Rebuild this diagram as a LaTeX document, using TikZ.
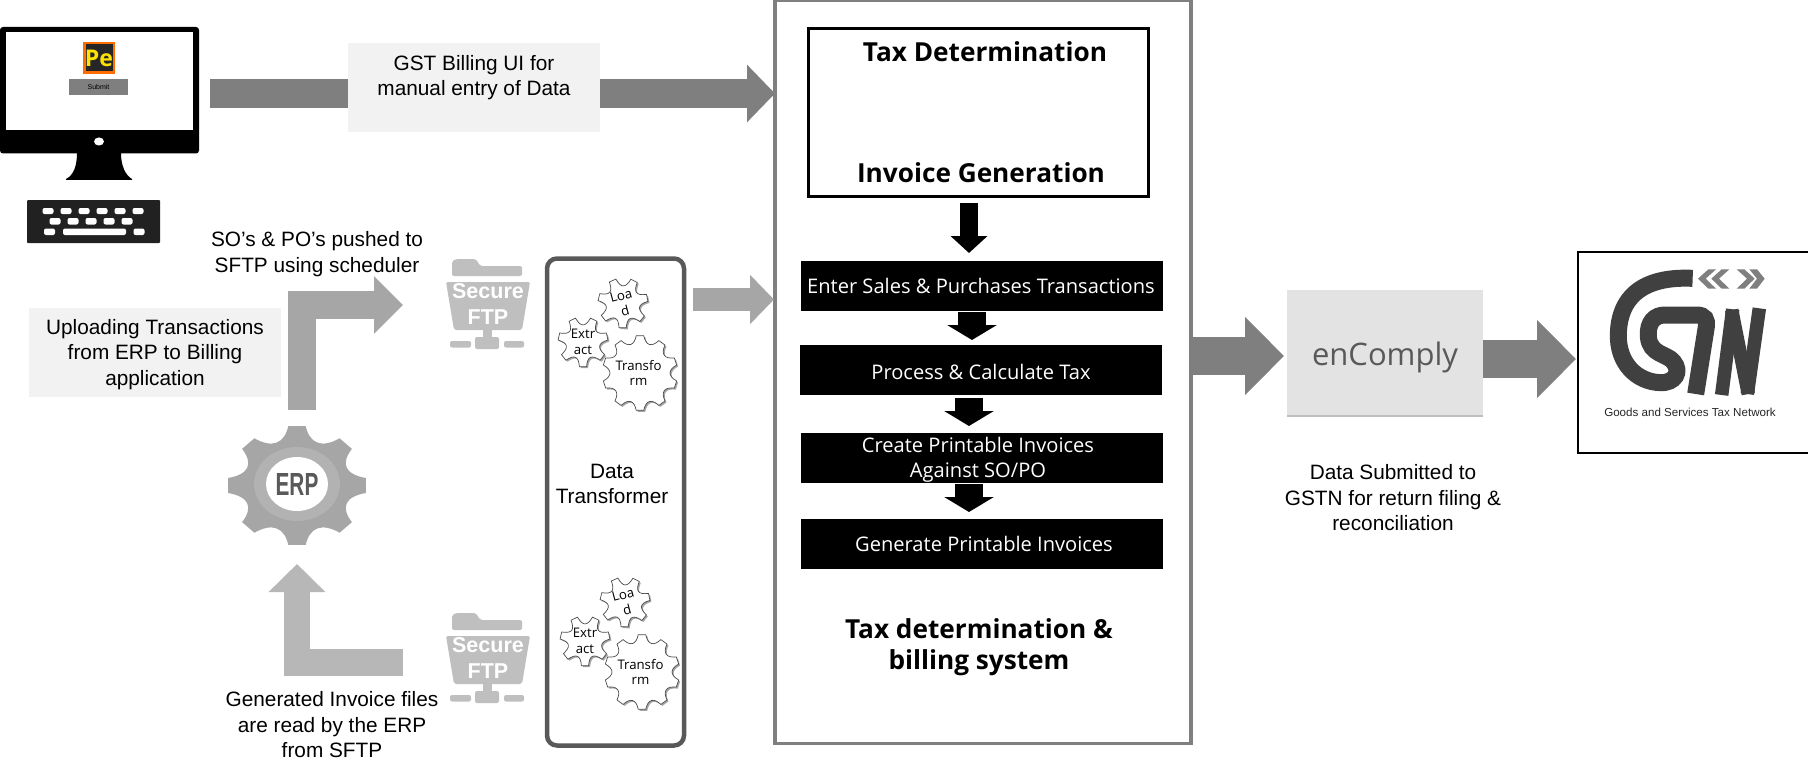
\documentclass[tikz,border=0pt]{standalone}
\usepackage{fontspec}
\usepackage{graphicx}
\usetikzlibrary{arrows.meta,shadows,calc}
\newfontfamily\arl{Liberation Sans}
\newfontfamily\opn{Open Sans}
\newcommand\fsz[2]{\fontsize{#1}{#2}\selectfont}
\definecolor{gdark}{HTML}{7F7F7F}
\definecolor{gmid}{HTML}{A6A6A6}
\definecolor{glight}{HTML}{B7B7B7}
\definecolor{gsftp}{HTML}{BFBFBF}
\definecolor{gpale}{HTML}{F2F2F2}
\definecolor{gbox}{HTML}{E3E3E3}
\definecolor{gtext}{HTML}{595959}
\definecolor{logoc}{HTML}{404040}
\tikzset{
  blockarrow/.style n args={4}{line width=#1,-{Triangle[length=#2,width=#3]},draw=#4,line cap=butt,miter limit=10},
  arialtext/.style={font=\arl\fsz{20.8}{25.5},align=center,inner sep=0pt,text=black},
  palebox/.style={fill=gpale,inner sep=0pt,outer sep=0pt},
  stepbar/.style={fill=black,text=white,inner sep=0pt,outer sep=0pt,minimum width=362pt,minimum height=50pt},
  steptext/.style={text=white,font=\opn\fsz{20.1}{25},align=center,inner sep=0pt},
  headtext/.style={font=\opn\bfseries\fsz{26.2}{31},align=center,inner sep=0pt},
  geartext/.style={font=\opn\fsz{13.2}{15.5},align=center,inner sep=0pt},
  gearface/.style={fill=white,draw=black!70,line width=.7pt,drop shadow={shadow xshift=1.5pt,shadow yshift=-1.5pt,opacity=.35,fill=black}},
}
\newcommand\geardraw[7]{%
  \pgfmathsetmacro\gst{360/#3}\pgfmathsetmacro\gw{\gst*.16}%
  \begin{scope}[shift={(#1,#2)},rotate=#6]
    \path[#7] (-\gw:#4) foreach \gi in {1,...,#3} {
      -- ({(\gi-1)*\gst+\gw}:#4)
      .. controls ({(\gi-1)*\gst+.33*\gst}:#5) and ({(\gi-1)*\gst+.67*\gst}:#5) .. ({\gi*\gst-\gw}:#4)
    } -- cycle;
  \end{scope}}
\newcommand\sftpicon[3]{% name, dx, dy
  \begin{scope}[shift={(#2,#3)}]
    \fill[gsftp,rounded corners=2pt] (452,276) -- (452,261) -- (456,259) -- (476,259) -- (480,266) -- (522,266) -- (522,276) -- cycle;
    \fill[gsftp,rounded corners=2pt] (446,282) -- (530,282) -- (522,330) -- (454,330) -- cycle;
    \fill[gsftp] (483,330) rectangle (492,340);
    \fill[gsftp,rounded corners=2pt] (475,337) rectangle (499,349);
    \fill[gsftp,rounded corners=2pt] (450,341) rectangle (471,347.5);
    \fill[gsftp,rounded corners=2pt] (504,341) rectangle (524,347.5);
    \node[font=\arl\bfseries\fsz{21.5}{26},text=white,align=center,inner sep=0pt] (#1) at (488,304) {Secure\\FTP};
  \end{scope}}
\newcommand\etlgears[5]{% dx, dy, and node names
  \begin{scope}[shift={(#1,#2)}]
    \geardraw{623}{303}{7}{25}{15}{12}{gearface}
    \geardraw{583}{342}{7}{25}{15}{-90}{gearface}
    \geardraw{640}{373}{10}{37.5}{28}{-90}{gearface}
    \node[geartext,rotate=15] (#3) at (623,303) {Loa\\d};
    \node[geartext] (#4) at (583,342) {Extr\\act};
    \node[geartext] (#5) at (638.5,373) {Transfo\\rm};
  \end{scope}}
\begin{document}
\begin{tikzpicture}[x=1pt,y=-1pt]
\useasboundingbox (0,0) rectangle (1808,773);
\fill[white] (0,0) rectangle (1808,773);

% monitor
\fill[black,rounded corners=3pt] (0,27) rectangle (199,153.5);
\fill[white] (6,32) rectangle (193,130);
\fill[white] (99,141.5) ellipse (5 and 4);
\fill[black] (77,153) .. controls (77,165) and (74,175) .. (66,179) -- (66,180) -- (132,180) -- (132,179) .. controls (125,175) and (121,165) .. (121,153) -- cycle;
% keyboard
\fill[black!87,rounded corners=1pt] (27,200) rectangle (160,243);
\foreach \kx in {48,66,84,102,120,138} \fill[white,rounded corners=2pt] (\kx-5.5,208) rectangle (\kx+5.5,214);
\foreach \kx in {55,73,91,109,127} \fill[white,rounded corners=2pt] (\kx-5.5,218) rectangle (\kx+5.5,224.5);
\fill[white,rounded corners=2pt] (44,228.5) rectangle (55,235);
\fill[white,rounded corners=2pt] (63,228.5) rectangle (126,235);
\fill[white,rounded corners=2pt] (133.5,228.5) rectangle (144.5,235);
% Pe icon and button
\node[draw=orange!85!red,line width=2.5pt,fill=black!85,minimum width=29.5pt,minimum height=29.5pt,inner sep=0pt,text=yellow!85!orange,font=\opn\bfseries\fsz{23}{25}] (pe) at (99,58) {Pe};
\node[fill=gdark,minimum width=59pt,minimum height=16pt,inner sep=0pt,font=\arl\fsz{7}{8}] (submit) at (98.5,87) {Submit};

% main frame
\node[draw=gdark,line width=3.5pt,inner sep=0pt,outer sep=0pt,minimum width=416pt,minimum height=743pt] (frame) at (983,372) {};

% top arrow and label
\coordinate (a1s) at (210,93.5);
\draw[blockarrow={29pt}{28pt}{56pt}{gdark}] (a1s) -- (a1s -| frame.west);
\node[palebox,minimum width=252pt,minimum height=89pt] (gstui) at (474,87.5) {};
\node[arialtext] (gstt) at (474,77.5) {GST Billing UI for\\manual entry of Data};

% tax determination
\node[draw=black,line width=2.5pt,fill=white,inner sep=0pt,outer sep=0pt,minimum width=340pt,minimum height=168pt] (detbox) at (978.5,112.5) {};
\node[headtext] (taxdet) at (985,52) {Tax Determination};
\node[headtext] (invgen) at (981,172.5) {Invoice Generation};

% steps
\node[stepbar] (s1) at (982,286) {};
\node[stepbar] (s2) at (981,370) {};
\node[stepbar] (s3) at (982,458) {};
\node[stepbar] (s4) at (982,544) {};
\node[steptext] (s1t) at (981,286) {Enter Sales \& Purchases Transactions};
\node[steptext] (s2t) at (981,372) {Process \& Calculate Tax};
\node[steptext] (s3t) at (978,459.5) {Create Printable Invoices\\Against SO/PO};
\node[steptext] (s4t) at (984,544) {Generate Printable Invoices};

\coordinate (k1) at (969,203);
\coordinate (k2) at (972,312);
\coordinate (k3) at (969,398);
\coordinate (k4) at (969,484);
\draw[blockarrow={18pt}{17pt}{36pt}{black},shorten >=8pt] (k1) -- (k1 |- s1.north);
\draw[blockarrow={28pt}{15pt}{49pt}{black},shorten >=5pt] (k2) -- (k2 |- s2.north);
\draw[blockarrow={28pt}{15pt}{49pt}{black},shorten >=7pt] (k3) -- (k3 |- s3.north);
\draw[blockarrow={28pt}{15pt}{49pt}{black},shorten >=7pt] (k4) -- (k4 |- s4.north);

\node[headtext] (taxbill) at (979,647) {Tax determination \&\\billing system};

% left side
\node[arialtext] (solabel) at (317,254) {SO’s \& PO’s pushed to\\SFTP using scheduler};
\node[palebox,minimum width=252pt,minimum height=89pt] (upload) at (155,352.5) {};
\node[arialtext] (uploadt) at (155,354.5) {Uploading Transactions\\from ERP to Billing\\application};
\coordinate (upa) at (302,410);
\coordinate (upb) at (302,305);
\coordinate (upc) at (403,305);
\draw[blockarrow={28pt}{29pt}{56pt}{gmid}] (upa) -- (upb) -- (upc);

% ERP gear
\begin{scope}[shift={(297,485.5)},yscale=.86]
  \geardraw{0}{0}{8}{69.5}{50}{0}{fill=gmid}
\end{scope}
\fill[black!30] (297,484) ellipse (43 and 37);
\fill[white] (297,484) ellipse (31 and 27);
\node[font=\arl\bfseries\fsz{32}{34},text=gtext,inner sep=0pt] (erp) at (297,484) {\scalebox{.65}[1]{ERP}};

\coordinate (dna) at (403,662.5);
\coordinate (dnb) at (297,662.5);
\coordinate (dnc) at (297,564);
\draw[blockarrow={26.5pt}{28pt}{55pt}{glight}] (dna) -- (dnb) -- (dnc);
\node[arialtext] (genlabel) at (332,725) {Generated Invoice files\\are read by the ERP\\from SFTP};

\sftpicon{sftpa}{0}{0}
\sftpicon{sftpb}{0}{354}

% data transformer
\node[draw=gtext,line width=4.5pt,rounded corners=10pt,inner sep=0pt,outer sep=0pt,minimum width=137pt,minimum height=487pt] (dt) at (615.5,502) {};
\node[arialtext] (dtlabel) at (612,484) {Data\\Transformer};
\etlgears{0}{0}{la}{ea}{ta}
\etlgears{2}{299}{lb}{eb}{tb}
\coordinate (lt) at (0,299.5);
\draw[blockarrow={23pt}{24pt}{48pt}{gmid},shorten <=9pt,shorten >=1pt] (dt.east |- lt) -- (frame.west |- lt);

% right side
\node[fill=gbox,inner sep=0pt,outer sep=0pt,minimum width=196pt,minimum height=125pt,drop shadow={shadow xshift=0pt,shadow yshift=-2pt,opacity=.25,fill=black}] (enc) at (1385,352.5) {};
\node[text=gtext,font=\opn\fsz{31}{34},inner sep=0pt] (enct) at (1385,357) {enComply};
\node[draw=black,line width=2.5pt,inner sep=0pt,outer sep=0pt,minimum width=232pt,minimum height=201pt] (gstn) at (1694,352.5) {};
\coordinate (r1) at (1000,356);
\coordinate (r2) at (1000,359);
\draw[blockarrow={38pt}{39pt}{76pt}{gdark},shorten >=3pt] (frame.east |- r1) -- (enc.west |- r1);
\draw[blockarrow={38pt}{39pt}{76pt}{gdark},shorten >=2pt] (enc.east |- r2) -- (gstn.west |- r2);
\node[arialtext] (datalabel) at (1393,498) {Data Submitted to\\GSTN for return filing \&\\reconciliation};

% GSTN logo
\begin{scope}[shift={(1540,240)},scale=1/3]
  \draw[logoc,line width=17pt,line cap=butt] (458,115) .. controls (350,110) and (240,140) .. (235,280) .. controls (232,370) and (290,425) .. (360,428) .. controls (405,430) and (425,395) .. (400,365) .. controls (380,340) and (330,345) .. (325,290) .. controls (322,245) and (345,225) .. (375,225) -- (470,225) .. controls (495,225) and (502,240) .. (499,260) -- (467,462);
  \draw[logoc,line width=13.5pt,line cap=butt,line join=round] (545,465) -- (578,208);
  \draw[logoc,line width=13.5pt,line cap=butt,line join=round] (575,210) -- (625,462);
  \draw[logoc,line width=13.5pt,line cap=butt,line join=round] (622,462) -- (658,205);
  \fill[gdark] (505,88) -- (528,88) -- (497,116) -- (528,146) -- (505,146) -- (474,116) -- cycle;
  \fill[gdark] (545,88) -- (568,88) -- (537,116) -- (568,146) -- (545,146) -- (514,116) -- cycle;
  \fill[gdark] (590,88) -- (613,88) -- (644,116) -- (613,146) -- (590,146) -- (621,116) -- cycle;
  \fill[gdark] (628,88) -- (651,88) -- (674,116) -- (651,146) -- (628,146) -- (651,116) -- cycle;
\end{scope}
\node[font=\arl\fsz{11.6}{13},inner sep=0pt,text=black!85] (gstnname) at (1690,412) {Goods and Services Tax Network};
\end{tikzpicture}
\end{document}
